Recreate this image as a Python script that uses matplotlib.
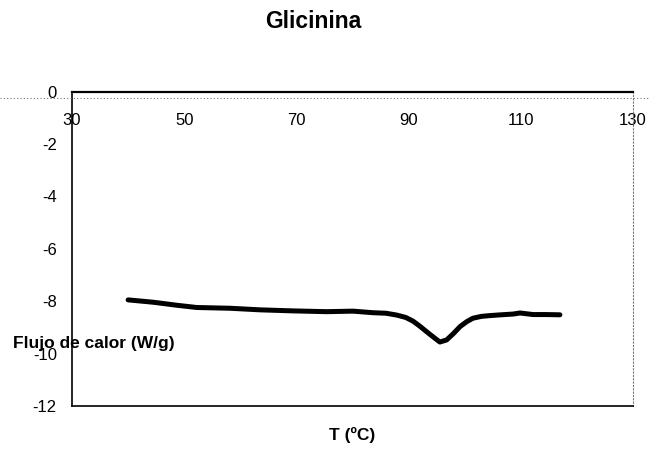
import matplotlib
matplotlib.use("Agg")
import matplotlib.pyplot as plt
from matplotlib.lines import Line2D

plt.rcParams['font.family'] = ['Liberation Sans', 'DejaVu Sans']
plt.rcParams['axes.unicode_minus'] = False

# Data (temperature in ºC, heat flow in W/g)
temperature = [40.0, 44.5, 48.5, 52.2, 58.2, 63.5, 69.4, 75.4, 80.1, 83.7,
               86.0, 87.9, 89.5, 90.8, 92.0, 93.2, 94.5, 95.6, 96.8, 98.0,
               99.2, 100.4, 101.5, 103.0, 104.5, 106.5, 108.7, 109.9, 112.2, 114.5, 117.0]
heat_flow = [-7.95, -8.04, -8.15, -8.24, -8.27, -8.33, -8.37, -8.40, -8.38, -8.44,
             -8.46, -8.53, -8.62, -8.76, -8.95, -9.16, -9.38, -9.56, -9.48, -9.24,
             -8.97, -8.78, -8.65, -8.58, -8.55, -8.52, -8.49, -8.45, -8.51, -8.51, -8.52]

x_ticks = [30, 50, 70, 90, 110, 130]
y_ticks = [0, -2, -4, -6, -8, -10, -12]

title = "Glicinina"
x_label = "T (ºC)"
y_label = "Flujo de calor (W/g)"

fig = plt.figure(figsize=(6.49, 4.5), dpi=100)
ax = fig.add_axes([0.111, 0.098, 0.864, 0.698])

ax.plot(temperature, heat_flow, color='black', linewidth=3.6,
        solid_capstyle='round', solid_joinstyle='round')

ax.set_xlim(30, 130)
ax.set_ylim(-12, 0)
ax.set_xticks(x_ticks)
ax.set_yticks(y_ticks)

ax.tick_params(axis='x', bottom=False, labelbottom=False, top=True, labeltop=True,
               length=0, pad=-26, labelsize=12)
ax.tick_params(axis='y', length=0, pad=11, labelsize=12)

for s in ['left', 'bottom']:
    ax.spines[s].set_linewidth(1.2)
    ax.spines[s].set_color('black')
ax.spines['top'].set_linewidth(1.6)
ax.spines['top'].set_color('black')
ax.spines['right'].set_linestyle((0, (1, 2)))
ax.spines['right'].set_color('#777777')
ax.spines['right'].set_linewidth(0.8)

ax.set_xlabel(x_label, fontsize=12.5, fontweight='bold')
ax.xaxis.set_label_coords(0.499, -0.092)
ax.xaxis.label.set_va('center')

ax.set_ylabel(y_label, fontsize=12.5, fontweight='bold', rotation=0)
ax.yaxis.set_label_coords(0.038, 0.2)
ax.yaxis.label.set_ha('center')
ax.yaxis.label.set_va('center')

fig.text(0.482, 0.953, title, fontsize=16.5, fontweight='bold',
         ha='center', va='center')

# dotted chart-area border line across the figure
fig.add_artist(Line2D([0, 1], [1 - 98 / 450, 1 - 98 / 450], transform=fig.transFigure,
                      color='#777777', linewidth=0.8, linestyle=(0, (1, 2))))

fig.savefig('out.png', dpi=100)
